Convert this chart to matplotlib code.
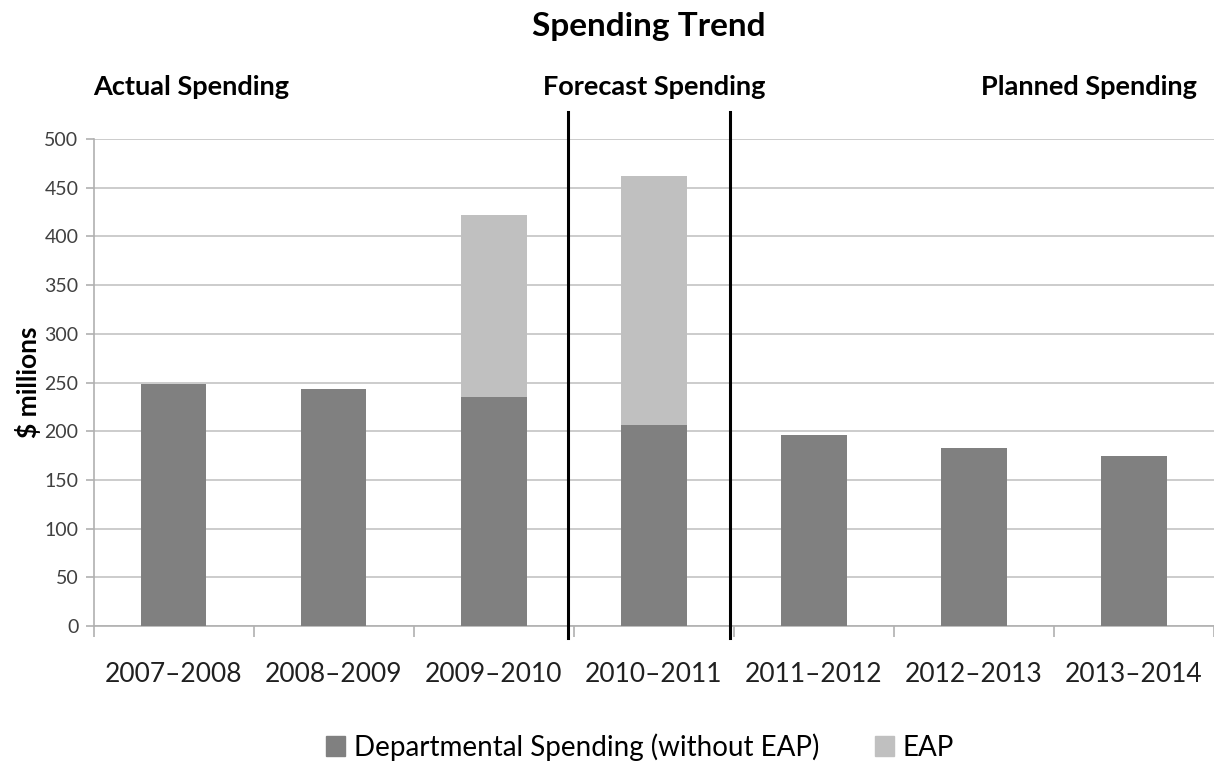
import matplotlib
matplotlib.use("Agg")
import matplotlib.pyplot as plt
from matplotlib.patches import Patch
import numpy as np

years = ["2007–2008", "2008–2009", "2009–2010", "2010–2011", "2011–2012", "2012–2013", "2013–2014"]
dept = [248, 243, 235, 206, 196, 183, 175]
eap = [0, 0, 187, 256, 0, 0, 0]
yticks = [0, 50, 100, 150, 200, 250, 300, 350, 400, 450, 500]

plt.rcParams['font.family'] = ['Lato', 'DejaVu Sans']

fig = plt.figure(figsize=(12.14, 7.67), dpi=100)
ax = fig.add_axes([0.0771, 0.1838, 0.9229, 0.635])

x = np.arange(len(years))
dark = "#808080"
light = "#c0c0c0"
ax.bar(x, dept, width=0.41, color=dark, zorder=3)
ax.bar(x, eap, width=0.41, bottom=dept, color=light, zorder=3)

ax.set_xlim(-0.5, 6.5)
ax.set_ylim(0, 500)
ax.set_yticks(yticks)
ax.yaxis.grid(True, color="#c8c8c8", linewidth=1.3, zorder=0)
ax.set_axisbelow(True)
for s in ["top", "right"]:
    ax.spines[s].set_visible(False)
ax.spines["left"].set_color("#b0b0b0")
ax.spines["bottom"].set_color("#b0b0b0")
ax.spines["left"].set_linewidth(1.2)
ax.spines["bottom"].set_linewidth(1.2)
ax.tick_params(axis="y", colors="#b0b0b0", labelcolor="#404040", labelsize=14, length=6, width=1.2, pad=5)

ax.set_xticks(x)
ax.set_xticklabels(years, fontsize=19, color="#202020")
ax.tick_params(axis="x", length=0, pad=26)
ax.set_xticks(np.arange(-0.5, 7.0, 1.0), minor=True)
ax.tick_params(axis="x", which="minor", length=8, width=1.2, colors="#b0b0b0")

ax.set_ylabel("$ millions", fontsize=19, fontweight="bold")
ax.yaxis.set_label_coords(-0.047, 0.5)

for xv in [2.465, 3.477]:
    ax.plot([xv, xv], [-0.025, 1.055], transform=ax.get_xaxis_transform(),
            color="black", linewidth=2.2, clip_on=False, zorder=5)

fig.text(0.534, 0.965, "Spending Trend", fontsize=24, fontweight="bold", ha="center", va="center")
fig.text(0.0771, 0.887, "Actual Spending", fontsize=19.5, fontweight="bold", ha="left", va="center")
fig.text(0.539, 0.887, "Forecast Spending", fontsize=19.5, fontweight="bold", ha="center", va="center")
fig.text(0.986, 0.887, "Planned Spending", fontsize=19.5, fontweight="bold", ha="right", va="center")

handles = [Patch(color=dark, label="Departmental Spending (without EAP)"),
           Patch(color=light, label="EAP")]
fig.legend(handles=handles, loc="center", bbox_to_anchor=(0.527, 0.026), ncol=2,
           frameon=False, fontsize=20, handlelength=0.7, handleheight=0.7,
           columnspacing=2.0, handletextpad=0.3)

fig.savefig("out.png", dpi=100)
